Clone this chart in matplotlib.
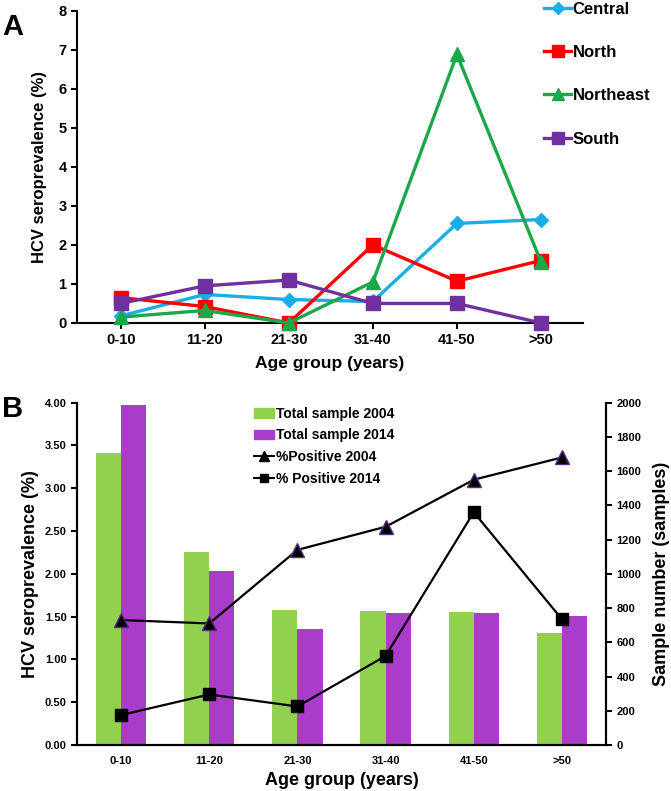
import numpy as np
import matplotlib.pyplot as plt
from matplotlib.lines import Line2D
from matplotlib.patches import Patch

plt.rcParams['font.family'] = ['Liberation Sans', 'DejaVu Sans']
plt.rcParams['font.weight'] = 'bold'

# dados do painel A
grupos = ['0-10', '11-20', '21-30', '31-40', '41-50', '>50']
central = [0.18, 0.73, 0.60, 0.55, 2.55, 2.65]
norte = [0.65, 0.42, 0.00, 2.00, 1.07, 1.60]
nordeste = [0.15, 0.32, 0.00, 1.05, 6.88, 1.57]
sul = [0.50, 0.95, 1.10, 0.50, 0.50, 0.00]

# dados do painel B
amostra_2004 = [1705, 1125, 790, 785, 778, 655]
amostra_2014 = [1985, 1015, 675, 770, 770, 752]
positivo_2004 = [1.46, 1.42, 2.28, 2.55, 3.10, 3.36]
positivo_2014 = [0.35, 0.59, 0.45, 1.04, 2.72, 1.47]

fig = plt.figure(figsize=(6.71, 7.91), dpi=100)
x = np.arange(len(grupos))

# ---------------- painel A ----------------
axA = fig.add_axes([0.1148, 0.5917, 0.754, 0.3948])
series = [
    ('Central', central, '#1AADE6', 'D', 7),
    ('North', norte, '#FF0000', 's', 10),
    ('Northeast', nordeste, '#1BA84B', '^', 10),
    ('South', sul, '#7030A0', 's', 10),
]
for nome, vals, cor, mk, ms in series:
    axA.plot(x, vals, color=cor, marker=mk, markersize=ms, linewidth=2.4,
             label=nome, clip_on=False, zorder=3)
axA.set_xlim(-0.52, 5.5)
axA.set_ylim(0, 8)
axA.set_yticks(range(0, 9))
axA.set_xticks(x)
axA.set_xticklabels(grupos)
axA.tick_params(axis='both', labelsize=10.5, direction='out', length=4, width=1.5)
for s in ['top', 'right']:
    axA.spines[s].set_visible(False)
for s in ['left', 'bottom']:
    axA.spines[s].set_linewidth(1.5)
axA.set_ylabel('HCV seroprevalence (%)', fontsize=12, fontweight='bold', labelpad=8)
axA.set_xlabel('Age group (years)', fontsize=12.5, fontweight='bold', labelpad=6)

hA = [Line2D([0], [0], color=c, marker=m, markersize=ms * 0.9, linewidth=2.4)
      for _, _, c, m, ms in series]
fig.legend(hA, [s[0] for s in series], loc='upper left',
           bbox_to_anchor=(0.789, 1.017), frameon=False, fontsize=12,
           handlelength=1.6, handletextpad=0.1, labelspacing=1.7)
fig.text(0.003, 0.984, 'A', fontsize=21, fontweight='bold', va='top')

# ---------------- painel B ----------------
axB = fig.add_axes([0.1148, 0.0582, 0.7883, 0.4327])
axB2 = axB.twinx()
w = 0.285
axB2.bar(x - w / 2, amostra_2004, width=w, color='#92D050', label='Total sample 2004', zorder=1)
axB2.bar(x + w / 2, amostra_2014, width=w, color='#A93CC9', label='Total sample 2014', zorder=1)
axB2.set_ylim(0, 2000)
axB2.set_yticks(range(0, 2001, 200))

axB.set_zorder(axB2.get_zorder() + 1)
axB.patch.set_visible(False)
axB.plot(x, positivo_2004, color='black', marker='^', markersize=10,
         markerfacecolor='black', markeredgecolor='#5B2C83', linewidth=1.6)
axB.plot(x, positivo_2014, color='black', marker='s', markersize=8, linewidth=1.6)
axB.set_ylim(0, 4)
axB.set_yticks(np.arange(0, 4.01, 0.5))
axB.set_yticklabels(['%.2f' % v for v in np.arange(0, 4.01, 0.5)])
axB.set_xlim(-0.5, 5.5)
axB.set_xticks(x)
axB.set_xticklabels(grupos)
axB.tick_params(axis='x', labelsize=8, length=0, pad=8)
axB.tick_params(axis='y', labelsize=8, direction='out', length=4, width=1.5)
axB2.tick_params(axis='y', labelsize=8, direction='out', length=4, width=1.5)
axB.spines['top'].set_visible(False)
axB2.spines['top'].set_visible(False)
for ax in (axB, axB2):
    for s in ['left', 'right', 'bottom']:
        ax.spines[s].set_linewidth(1.5)
axB.set_ylabel('HCV seroprevalence (%)', fontsize=13, fontweight='bold', labelpad=4)
axB2.set_ylabel('Sample number (samples)', fontsize=13, fontweight='bold', labelpad=8)
axB.set_xlabel('Age group (years)', fontsize=13, fontweight='bold', labelpad=4)

hB = [Patch(color='#92D050'), Patch(color='#A93CC9'),
      Line2D([0], [0], color='black', marker='^', markersize=7),
      Line2D([0], [0], color='black', marker='s', markersize=6)]
lB = ['Total sample 2004', 'Total sample 2014', '%Positive 2004', '% Positive 2014']
axB.legend(hB, lB, loc='upper left', bbox_to_anchor=(0.31, 1.025), frameon=False,
           fontsize=10, handlelength=1.5, handletextpad=0.1, labelspacing=0.55)
fig.text(0.003, 0.5006, 'B', fontsize=21, fontweight='bold', va='top')

plt.savefig('out.png', dpi=100)
